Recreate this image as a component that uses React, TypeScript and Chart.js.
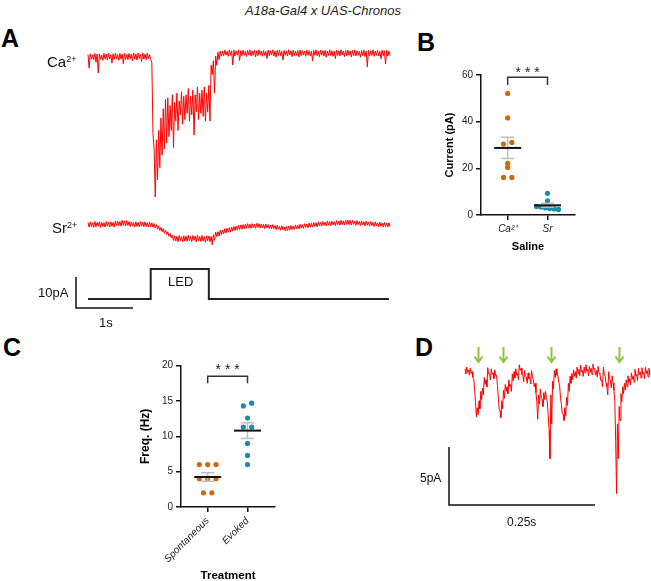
import React, { useEffect, useRef } from "react";
import { Chart, registerables } from "chart.js";

Chart.register(...registerables);

const FONT = "'Liberation Sans', Arial, Helvetica, sans-serif";
const RED = "#ff0000";
const ORANGE = "#d0690b";
const TEAL = "#1b8ba7";
const GREEN = "#8cc63f";
const INK = "#111111";

// ---------------- Panel A: currents (pA), min/max per bin of traceDt s ----------------
const traceDt = 0.04;
const caHi = [
  0.5, 0.7, 0.4, 0.8, 0.6, 0.7, 0.3, 0.8, 0.6, 0.9,
  0.4, 0.7, 0.9, 0.5, 0.8, 0.6, 0.9, 0.5, 0.8, 0.6,
  1.0, 0.7, 0.9, 0.5, 1.0, 0.6, 0.9, 0.5, -2, -30,
  -27, -24, -20, -17, -14, -13.5, -16, -12.5, -15, -12,
  -14.5, -11.5, -13, -12.5, -10.5, -13, -11, -12.5, -10, -12,
  -11, -10, -12, -9.5, -3, -1.5, 0, 1.2, 1.6, 1.6,
  1.9, 1.5, 2.0, 1.7, 1.8, 1.6, 2.0, 1.7, 1.9, 1.5,
  1.8, 2.0, 1.6, 1.9, 1.7, 2.0, 1.6, 1.8, 1.5, 1.9,
  1.7, 2.0, 1.6, 1.8, 1.9, 1.5, 1.8, 1.6, 2.0, 1.7,
  1.9, 1.5, 1.8, 2.0, 1.7, 1.6, 1.9, 1.7, 1.5, 1.8,
  2.0, 1.6, 1.9, 1.7, 1.8, 1.6, 2.0, 1.7, 1.5, 1.9,
  1.7, 2.0, 1.6, 1.8, 1.9, 1.6, 1.8, 2.0, 1.7, 1.5,
  1.8, 1.9, 1.6, 1.8, 1.7, 2.0, 1.6, 1.8, 1.5, 1.9,
  1.7, 1.8, 1.6,
];
const caLo = [
  -3.9, -1.0, -1.2, -2.0, -5.5, -1.1, -1.4, -0.9, -1.3, -1.0,
  -2.3, -1.1, -0.9, -1.4, -1.0, -2.5, -1.1, -1.2, -0.9, -1.6,
  -1.0, -1.3, -0.8, -1.8, -1.0, -1.2, -0.9, -1.1, -25, -45.5,
  -40, -36, -32, -30, -28, -26, -24, -29.5, -21, -24,
  -19, -22, -20.5, -18.5, -21, -19, -25.5, -18, -20.5, -18.5,
  -19.5, -21, -18, -21, -6, -12, -3, -1.2, 0, 0.1,
  0.3, -0.1, 0.2, -2.9, 0.0, 0.3, -1.5, 0.1, 0.2, -0.2,
  0.3, 0.0, 0.2, -0.3, 0.1, 0.3, -0.1, 0.2, -0.8, 0.1,
  0.3, 0.0, -0.4, 0.2, 0.1, -1.3, 0.2, 0.0, 0.3, -0.2,
  0.1, 0.2, -0.3, 0.1, 0.3, -0.1, 0.2, 0.0, -1.5, 0.2,
  0.1, -0.2, 0.3, 0.0, -0.4, 0.2, 0.1, -0.1, -0.8, 0.2,
  0.0, 0.3, -0.2, 0.1, 0.2, -0.3, 0.1, 0.0, 0.2, -0.4,
  0.1, -0.2, -3.5, 0.1, 0.2, -0.1, 0.2, 0.0, -0.9, 0.1,
  -2.6, 0.0, 0.2,
];
const srHi = [
  0.6, 0.8, 0.5, 0.9, 0.6, 0.8, 0.7, 0.5, 0.9, 0.7,
  0.8, 0.6, 1.0, 1.1, 0.9, 1.3, 1.1, 1.2, 0.9, 0.8,
  0.6, 0.8, 0.6, 0.9, 0.7, 0.8, 0.5, 0.7, 0.5, 0.2,
  -0.1, -0.5, -1.0, -1.4, -1.9, -2.4, -3.0, -3.5, -3.7, -3.9,
  -3.6, -4.0, -3.7, -3.8, -3.5, -3.9, -3.6, -3.8, -3.5, -3.9,
  -3.6, -4.0, -3.7, -3.8, -3.9, -3.3, -2.5, -2.4, -1.9, -1.8,
  -1.4, -1.3, -1.1, -0.9, -0.7, -0.6, -0.3, -0.2, -0.1, 0.0,
  0.2, 0.1, 0.2, 0.0, 0.3, 0.2, 0.1, 0.0, 0.1, -0.1,
  -0.2, -0.1, -0.4, -0.3, -0.6, -0.5, -0.8, -0.7, -0.6, -0.4,
  -0.5, -0.2, -0.3, 0.0, -0.1, 0.2, 0.1, 0.4, 0.3, 0.6,
  0.5, 0.8, 0.6, 0.9, 0.7, 1.1, 0.9, 1.0, 0.8, 1.2,
  1.0, 1.3, 1.1, 1.3, 1.4, 1.2, 1.3, 1.0, 1.2, 0.9,
  1.1, 0.8, 1.0, 0.7, 0.9, 0.6, 0.8, 0.5, 0.7, 0.4,
  0.6, 0.4, 0.5,
];
const srLo = [
  -0.9, -0.7, -1.0, -0.8, -0.6, -1.0, -0.7, -0.9, -0.6, -0.9,
  -0.7, -0.9, -0.5, -0.4, -0.6, -0.3, -0.5, -0.4, -0.7, -0.6,
  -0.9, -0.7, -0.8, -0.6, -0.8, -0.7, -0.9, -0.8, -0.9, -1.2,
  -1.6, -2.0, -2.4, -2.9, -3.3, -3.9, -4.4, -5.2, -5.4, -5.6,
  -5.3, -5.7, -5.4, -5.5, -5.3, -5.6, -5.2, -5.7, -5.3, -5.5,
  -5.4, -5.8, -5.3, -5.6, -6.6, -5.2, -4.0, -3.8, -3.3, -3.1,
  -2.8, -2.6, -2.5, -2.2, -2.0, -1.9, -1.7, -1.6, -1.5, -1.3,
  -1.2, -1.3, -1.1, -1.3, -1.0, -1.2, -1.1, -1.4, -1.2, -1.3,
  -1.5, -1.4, -1.7, -1.6, -1.9, -1.8, -2.1, -2.0, -1.9, -1.7,
  -1.6, -1.4, -1.5, -1.2, -1.3, -1.0, -1.1, -0.9, -0.8, -0.7,
  -0.8, -0.5, -0.6, -0.4, -0.5, -0.3, -0.4, -0.2, -0.4, -0.1,
  -0.3, -0.1, -0.2, 0.0, -0.1, -0.2, 0.0, -0.3, -0.1, -0.4,
  -0.2, -0.5, -0.3, -0.6, -0.4, -0.7, -0.5, -0.8, -0.6, -0.9,
  -0.7, -0.9, -0.8,
];
const ledTimes = [0, 1.1, 1.1, 2.12, 2.12, 5.28];
const ledLevels = [0, 0, 1, 1, 0, 0];
const aScaleBarPA = 10;
const aScaleBarS = 1;

// ---------------- Panel B ----------------
const salineCategories = ["Ca\u00B2\u207A", "Sr"];
const caCurrents = [52.1, 41.6, 30.4, 31.1, 22.1, 20.4, 16.1, 16.1];
const srCurrents = [9.3, 6.1, 3.6, 3.4, 3.0, 2.8, 2.6, 2.4];
const currentTicks = [0, 20, 40, 60];

// ---------------- Panel C ----------------
const treatmentCategories = ["Spontaneous", "Evoked"];
const spontaneousFreq = [6, 6, 6, 4, 4, 4, 2, 2];
const evokedFreq = [14.3, 14.7, 12.6, 11.3, 11.3, 9.0, 7.3, 6.0];
const freqTicks = [0, 5, 10, 15, 20];

// ---------------- Panel D: spontaneous trace (pA), min/max per bin of dDt s ----------------
const dDt = 0.003;
const dHi = [
  0.25, 0.4, 0.15, 0.3, 0.0, -0.6, -2.6, -3.1, -2.5, -1.7,
  -1.4, -0.5, -0.7, 0.35, -0.2, 0.25, -0.1, 0.15, -0.3, -2.2,
  -3.4, -2.5, -1.6, -1.1, -1.3, -0.7, -1.1, -0.2, 0.0, 0.25,
  -0.15, 0.6, 0.3, -0.3, 0.1, -0.45, -0.1, -0.5, 0.1, -0.7,
  -1.0, -2.6, -2.0, -1.5, -2.4, -1.8, -1.7, -2.6, -5.0, -2.0,
  -0.8, 0.1, 0.25, -0.3, -1.2, -2.8, -3.7, -3.1, -2.2, -1.0,
  -0.4, -0.15, 0.15, 0.0, 0.4, 0.2, 0.55, 0.1, 0.4, 0.6,
  0.2, 0.45, 0.3, 0.65, 0.3, 0.1, 0.45, -0.2, -0.7, 0.4,
  -0.4, -1.3, 0.0, -0.8, -0.35, -1.6, -6.0, -4.5, -3.0, -1.9,
  -1.3, -1.0, -0.7, -0.35, -0.6, -0.1, -0.35, 0.2, -0.2, 0.3,
  0.0, 0.35, -0.1, 0.4, 0.1, 0.3,
];
const dLo = [
  -0.2, -0.05, -0.3, -0.15, -0.5, -1.6, -3.9, -3.7, -3.2, -2.4,
  -2.0, -1.1, -1.3, -0.2, -0.7, -0.25, -0.6, -0.35, -1.2, -3.2,
  -3.95, -3.2, -2.3, -1.7, -1.9, -1.3, -1.7, -0.8, -0.55, -0.3,
  -0.7, 0.1, -0.25, -0.85, -0.4, -1.0, -0.6, -1.05, -0.4, -1.3,
  -1.8, -4.1, -2.8, -2.2, -3.0, -2.4, -2.3, -3.8, -7.5, -4.5,
  -1.5, -0.5, -0.3, -0.9, -2.2, -3.6, -4.2, -3.8, -2.9, -1.7,
  -1.0, -0.7, -0.4, -0.55, -0.15, -0.35, 0.0, -0.4, -0.1, 0.05,
  -0.35, -0.05, -0.25, 0.2, -0.3, -0.45, -0.1, -0.75, -1.3, -0.2,
  -1.0, -2.0, -0.6, -1.4, -0.95, -2.5, -10.5, -7.5, -4.2, -2.6,
  -1.9, -1.6, -1.3, -0.95, -1.15, -0.65, -0.9, -0.35, -0.75, -0.25,
  -0.55, -0.2, -0.6, -0.15, -0.45, -0.3,
];
const arrowTimes = [0.0228, 0.0646, 0.1473, 0.2637];
const dScaleBarPA = 5;
const dScaleBarS = 0.25;

// ---------------- helpers ----------------
const mean = (a: number[]) => a.reduce((s, v) => s + v, 0) / a.length;
const sem = (a: number[]) => {
  const m = mean(a);
  const v = a.reduce((s, x) => s + (x - m) * (x - m), 0) / (a.length - 1);
  return Math.sqrt(v / a.length);
};

// min/max envelope -> drawn as an interleaved trace (like an oscilloscope display)
const envelope = (hi: number[], lo: number[], dt: number) => {
  const pts: { x: number; y: number }[] = [];
  hi.forEach((h, i) => {
    pts.push({ x: i * dt, y: h });
    pts.push({ x: i * dt + dt / 2, y: lo[i] });
  });
  return pts;
};

// simple beeswarm: spread points whose values nearly coincide
function swarm(values: number[], center: number, threshold: number, step: number, maxSpan: number) {
  const order = values.map((_, i) => i).sort((a, b) => values[b] - values[a]);
  const groups: number[][] = [];
  let cur: number[] = [];
  for (const i of order) {
    if (cur.length && Math.abs(values[cur[cur.length - 1]] - values[i]) > threshold) {
      groups.push(cur);
      cur = [];
    }
    cur.push(i);
  }
  if (cur.length) groups.push(cur);
  const xs = values.map(() => center);
  for (const g of groups) {
    g.sort((a, b) => a - b);
    const n = g.length;
    const s = n > 1 ? Math.min(step, maxSpan / (n - 1)) : 0;
    g.forEach((idx, k) => {
      xs[idx] = center + (k - (n - 1) / 2) * s;
    });
  }
  return values.map((v, i) => ({ x: xs[i], y: v }));
}

const hRange = (originPx: number, pxPerUnit: number, sizePx: number) => ({
  min: -originPx / pxPerUnit,
  max: (sizePx - originPx) / pxPerUnit,
});
const vRange = (zeroPx: number, pxPerUnit: number, sizePx: number) => ({
  min: (zeroPx - sizePx) / pxPerUnit,
  max: zeroPx / pxPerUnit,
});
const hidden = (r: { min: number; max: number }) => ({ type: "linear", display: false, min: r.min, max: r.max });

function scaleBarPlugin(id: string, corner: { x: number; y: number }, seconds: number, pA: number, yId: string) {
  return {
    id,
    afterDatasetsDraw(chart: any) {
      const x = chart.scales.x;
      const y = chart.scales[yId];
      const w = Math.abs(x.getPixelForValue(seconds) - x.getPixelForValue(0));
      const h = Math.abs(y.getPixelForValue(pA) - y.getPixelForValue(0));
      const ctx = chart.ctx;
      ctx.save();
      ctx.strokeStyle = INK;
      ctx.lineWidth = 1.5;
      ctx.lineCap = "butt";
      ctx.beginPath();
      ctx.moveTo(corner.x, corner.y - h);
      ctx.lineTo(corner.x, corner.y);
      ctx.lineTo(corner.x + w, corner.y);
      ctx.stroke();
      ctx.restore();
    },
  };
}

function statsPlugin(
  groups: { x: number; values: number[] }[],
  bracket: { y: number; drop: number; starGap: number }
) {
  return {
    id: "stats",
    afterDatasetsDraw(chart: any) {
      const { ctx } = chart;
      const x = chart.scales.x;
      const y = chart.scales.y;
      ctx.save();
      for (const g of groups) {
        const m = mean(g.values);
        const s = sem(g.values);
        const cx = x.getPixelForValue(g.x);
        const yTop = y.getPixelForValue(m + s);
        const yBot = y.getPixelForValue(m - s);
        ctx.strokeStyle = "#bdbdbd";
        ctx.lineWidth = 1.5;
        ctx.beginPath();
        ctx.moveTo(cx, yTop);
        ctx.lineTo(cx, yBot);
        ctx.moveTo(cx - 6.5, yTop);
        ctx.lineTo(cx + 6.5, yTop);
        ctx.moveTo(cx - 6.5, yBot);
        ctx.lineTo(cx + 6.5, yBot);
        ctx.stroke();
        const ym = y.getPixelForValue(m);
        ctx.strokeStyle = INK;
        ctx.lineWidth = 2;
        ctx.beginPath();
        ctx.moveTo(cx - 13.5, ym);
        ctx.lineTo(cx + 13.5, ym);
        ctx.stroke();
      }
      const x1 = x.getPixelForValue(groups[0].x);
      const x2 = x.getPixelForValue(groups[1].x);
      const by = y.getPixelForValue(bracket.y);
      ctx.strokeStyle = "#333";
      ctx.lineWidth = 1.5;
      ctx.beginPath();
      ctx.moveTo(x1, by + bracket.drop);
      ctx.lineTo(x1, by);
      ctx.lineTo(x2, by);
      ctx.lineTo(x2, by + bracket.drop);
      ctx.stroke();
      ctx.fillStyle = "#222";
      ctx.font = `14px ${FONT}`;
      ctx.textAlign = "center";
      ctx.textBaseline = "alphabetic";
      ctx.fillText("* * *", (x1 + x2) / 2, by - bracket.starGap + 8);
      ctx.restore();
    },
  };
}

function dotAxis(opts: any) {
  const tickFont = { family: FONT, size: 10 };
  const common = {
    type: "linear",
    grid: { display: true, drawOnChartArea: false, drawTicks: true, tickLength: 5, color: INK, lineWidth: 1.5 },
    border: { display: true, color: INK, width: 1.5 },
  };
  return {
    x: {
      ...common,
      min: 0.33,
      max: 2.69,
      afterBuildTicks: (s: any) => {
        s.ticks = [1, 2].map((v) => ({ value: v }));
      },
      afterFit: (s: any) => {
        s.height = opts.xHeight;
      },
      ticks: {
        autoSkip: false,
        minRotation: opts.rot,
        maxRotation: opts.rot,
        padding: 3,
        color: "#222",
        font: { ...tickFont, style: "italic" },
        callback: (v: number) => opts.cats[Math.round(v) - 1],
      },
      title: {
        display: true,
        text: opts.xTitle,
        color: "#000",
        font: { family: FONT, size: opts.xTitleSize, weight: "bold" },
        padding: { top: 0, bottom: opts.xTitlePad },
      },
    },
    y: {
      ...common,
      min: opts.yTicks[0],
      max: opts.yTicks[opts.yTicks.length - 1],
      afterBuildTicks: (s: any) => {
        s.ticks = opts.yTicks.map((v: number) => ({ value: v }));
      },
      afterFit: (s: any) => {
        s.width = opts.yWidth;
      },
      ticks: { padding: 3, color: "#222", font: tickFont },
      title: {
        display: true,
        text: opts.yTitle,
        color: "#000",
        font: { family: FONT, size: opts.yTitleSize, weight: "bold" },
        padding: { top: opts.yTitlePad, bottom: 0 },
      },
    },
  };
}

const pointDs = (pts: any[], color: string) => ({
  data: pts,
  backgroundColor: color,
  borderColor: color,
  pointRadius: 2.6,
  pointBorderWidth: 0,
});

const traceDs = (pts: any[], extra: any) => ({
  data: pts,
  showLine: true,
  borderColor: RED,
  borderWidth: 1,
  pointRadius: 0,
  ...extra,
});

const baseOpts = {
  animation: false,
  responsive: false,
  events: [],
  plugins: { legend: { display: false }, tooltip: { enabled: false } },
};

export default function App() {
  const aRef = useRef<HTMLCanvasElement>(null);
  const bRef = useRef<HTMLCanvasElement>(null);
  const cRef = useRef<HTMLCanvasElement>(null);
  const dRef = useRef<HTMLCanvasElement>(null);

  useEffect(() => {
    const charts: Chart[] = [];

    // Panel A
    const A = { w: 400, h: 290, t0: 88, pxPerS: 57, pxPerPA: 3.1, caZero: 16, srZero: 184.3, ledZero: 259, ledPx: 30 };
    charts.push(
      new Chart(aRef.current as HTMLCanvasElement, {
        type: "scatter",
        data: {
          datasets: [
            traceDs(envelope(caHi, caLo, traceDt), { yAxisID: "yCa" }),
            traceDs(envelope(srHi, srLo, traceDt), { yAxisID: "ySr" }),
            traceDs(
              ledTimes.map((t, i) => ({ x: t, y: ledLevels[i] })),
              { yAxisID: "yLed", borderColor: "#222", borderWidth: 2 }
            ),
          ],
        },
        options: {
          ...baseOpts,
          layout: { padding: 0, autoPadding: false },
          scales: {
            x: hidden(hRange(A.t0, A.pxPerS, A.w)),
            yCa: hidden(vRange(A.caZero, A.pxPerPA, A.h)),
            ySr: hidden(vRange(A.srZero, A.pxPerPA, A.h)),
            yLed: hidden(vRange(A.ledZero, A.ledPx, A.h)),
          },
        } as any,
        plugins: [scaleBarPlugin("barA", { x: 76, y: 268 }, aScaleBarS, aScaleBarPA, "yCa")],
      })
    );

    // Panel B
    charts.push(
      new Chart(bRef.current as HTMLCanvasElement, {
        type: "scatter",
        data: {
          datasets: [
            pointDs(swarm(caCurrents, 1, 1.5, 0.21, 0.55), ORANGE),
            pointDs(swarm(srCurrents, 2, 1.5, 0.21, 0.55), TEAL),
          ],
        },
        options: {
          ...baseOpts,
          layout: { padding: { top: 25, right: 15, bottom: 0, left: 0 } },
          scales: dotAxis({
            cats: salineCategories,
            rot: 0,
            xHeight: 45,
            xTitle: "Saline",
            xTitleSize: 11,
            xTitlePad: 6.7,
            yTicks: currentTicks,
            yWidth: 61,
            yTitle: "Current (pA)",
            yTitleSize: 11,
            yTitlePad: 23.4,
          }),
        } as any,
        plugins: [
          statsPlugin(
            [
              { x: 1, values: caCurrents },
              { x: 2, values: srCurrents },
            ],
            { y: 59, drop: 7.7, starGap: 8 }
          ),
        ],
      })
    );

    // Panel C
    charts.push(
      new Chart(cRef.current as HTMLCanvasElement, {
        type: "scatter",
        data: {
          datasets: [
            pointDs(swarm(spontaneousFreq, 1, 0.5, 0.21, 0.55), ORANGE),
            pointDs(swarm(evokedFreq, 2, 0.5, 0.21, 0.55), TEAL),
          ],
        },
        options: {
          ...baseOpts,
          layout: { padding: { top: 25.7, right: 15, bottom: 0, left: 0 } },
          scales: dotAxis({
            cats: treatmentCategories,
            rot: 45,
            xHeight: 74,
            xTitle: "Treatment",
            xTitleSize: 11.5,
            xTitlePad: -2,
            yTicks: freqTicks,
            yWidth: 61,
            yTitle: "Freq. (Hz)",
            yTitleSize: 12,
            yTitlePad: 18.8,
          }),
        } as any,
        plugins: [
          statsPlugin(
            [
              { x: 1, values: spontaneousFreq },
              { x: 2, values: evokedFreq },
            ],
            { y: 18.5, drop: 7, starGap: 10 }
          ),
        ],
      })
    );

    // Panel D
    const D = { w: 211, h: 200, t0: 25, pxPerS: 584, pxPerPA: 11.6, zero: 41.7 };
    const arrowPlugin = {
      id: "arrows",
      afterDatasetsDraw(chart: any) {
        const ctx = chart.ctx;
        const x = chart.scales.x;
        ctx.save();
        ctx.strokeStyle = GREEN;
        ctx.lineWidth = 2;
        ctx.lineCap = "butt";
        ctx.lineJoin = "miter";
        for (const t of arrowTimes) {
          const px = Math.round(x.getPixelForValue(t)) + 0.5;
          ctx.beginPath();
          ctx.moveTo(px, 17);
          ctx.lineTo(px, 32);
          ctx.moveTo(px - 4, 26.5);
          ctx.lineTo(px, 32);
          ctx.lineTo(px + 4, 26.5);
          ctx.stroke();
        }
        ctx.restore();
      },
    };
    charts.push(
      new Chart(dRef.current as HTMLCanvasElement, {
        type: "scatter",
        data: { datasets: [traceDs(envelope(dHi, dLo, dDt), {})] },
        options: {
          ...baseOpts,
          layout: { padding: 0, autoPadding: false },
          scales: {
            x: hidden(hRange(D.t0, D.pxPerS, D.w)),
            y: hidden(vRange(D.zero, D.pxPerPA, D.h)),
          },
        } as any,
        plugins: [arrowPlugin, scaleBarPlugin("barD", { x: 9, y: 175 }, dScaleBarS, dScaleBarPA, "y")],
      })
    );

    return () => charts.forEach((c) => c.destroy());
  }, []);

  const txt = (extra: React.CSSProperties): React.CSSProperties => ({
    position: "absolute",
    lineHeight: 1,
    whiteSpace: "nowrap",
    color: "#111",
    ...extra,
  });
  const sup = { fontSize: "0.6em", position: "relative" as const, top: "-0.55em" };

  return (
    <div
      style={{
        position: "absolute",
        left: 0,
        top: 0,
        width: 651,
        height: 581,
        overflow: "hidden",
        background: "#fff",
        fontFamily: FONT,
      }}
    >
      <div style={txt({ left: 323, top: 4, fontSize: 13, fontStyle: "italic", transform: "translateX(-50%)", color: "#222" })}>
        A18a-Gal4 x UAS-Chronos
      </div>
      <div style={txt({ left: 1, top: 26, fontSize: 25, fontWeight: "bold", color: "#000" })}>A</div>
      <div style={txt({ left: 417, top: 30, fontSize: 25, fontWeight: "bold", color: "#000" })}>B</div>
      <div style={txt({ left: 3, top: 335, fontSize: 25, fontWeight: "bold", color: "#000" })}>C</div>
      <div style={txt({ left: 415, top: 335, fontSize: 25, fontWeight: "bold", color: "#000" })}>D</div>

      <canvas ref={aRef} width={400} height={290} style={{ position: "absolute", left: 0, top: 40 }} />
      <canvas ref={bRef} width={170} height={210} style={{ position: "absolute", left: 420, top: 50 }} />
      <canvas ref={cRef} width={170} height={241} style={{ position: "absolute", left: 120, top: 340 }} />
      <canvas ref={dRef} width={211} height={200} style={{ position: "absolute", left: 440, top: 330 }} />

      <div style={txt({ left: 47, top: 54, fontSize: 15 })}>
        Ca<span style={sup}>2+</span>
      </div>
      <div style={txt({ left: 52, top: 220, fontSize: 15 })}>
        Sr<span style={sup}>2+</span>
      </div>
      <div style={txt({ left: 38, top: 286, fontSize: 13 })}>10pA</div>
      <div style={txt({ left: 168, top: 275, fontSize: 13 })}>LED</div>
      <div style={txt({ left: 99, top: 316, fontSize: 13 })}>1s</div>
      <div style={txt({ left: 420, top: 471.5, fontSize: 12 })}>5pA</div>
      <div style={txt({ left: 507, top: 516, fontSize: 12 })}>0.25s</div>
    </div>
  );
}
